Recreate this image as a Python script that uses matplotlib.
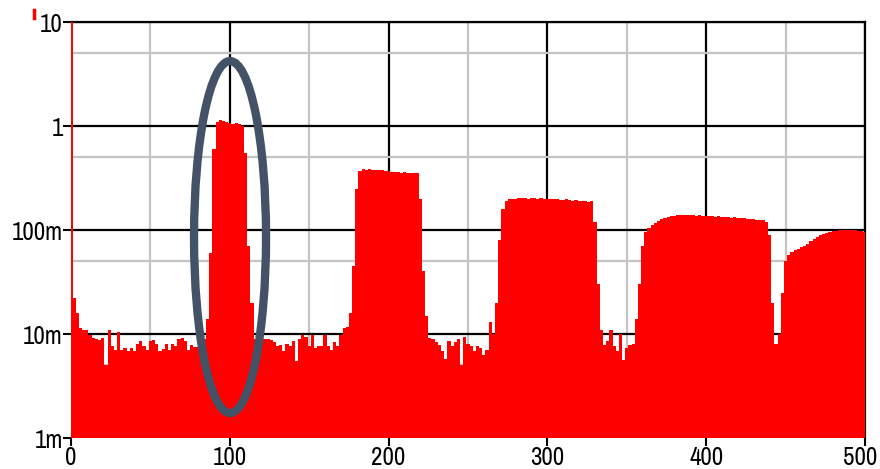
import numpy as np
import matplotlib
matplotlib.use('Agg')
from matplotlib import pyplot as plt
from matplotlib import font_manager
from matplotlib import transforms
from matplotlib.patches import Ellipse
from matplotlib.lines import Line2D

# prefer a narrow sans face for the tick labels if one is installed
narrow = [f.name for f in font_manager.fontManager.ttflist
          if 'Narrow' in f.name or ('Condensed' in f.name and 'Sans' in f.name)]
plt.rcParams['font.family'] = narrow[:1] + ['Liberation Sans', 'DejaVu Sans']
label_size = 18 if narrow else 16

# spectrum bins, 2 Hz apart, 0..500
freq = np.arange(0, 501, 2)

# DC spike and low-frequency floor, 0..20
low_end = [10, 0.022, 0.016, 0.0115, 0.011, 0.011, 0.0098, 0.0092, 0.009, 0.0088, 0.0092]
# floor 22..86
floor_a = [0.005, 0.0109, 0.0076, 0.0070, 0.0105, 0.0070, 0.0074, 0.0069, 0.0073, 0.0069,
           0.0081, 0.0085, 0.0076, 0.0070, 0.0086, 0.0087, 0.0081, 0.0068, 0.0072, 0.0080,
           0.0070, 0.0080, 0.0076, 0.0090, 0.0092, 0.0085, 0.0070, 0.0078, 0.0075, 0.0075,
           0.0080, 0.0090, 0.014]
# band around 100, 88..114
band_100 = [0.06, 0.6, 1.10, 1.14, 1.12, 1.10, 1.07, 1.05, 1.06, 1.04, 1.0, 0.55, 0.07, 0.02]
# floor 116..174
floor_b = [0.009, 0.0085, 0.0080, 0.0090, 0.0090, 0.0087, 0.0084, 0.0076, 0.0078, 0.0069,
           0.0081, 0.0076, 0.0086, 0.0055, 0.0090, 0.0098, 0.0094, 0.0076, 0.0098, 0.0073,
           0.0076, 0.0076, 0.0098, 0.0076, 0.0070, 0.0084, 0.0076, 0.0098, 0.0115, 0.0118]
# band around 200, 176..224
band_200 = [0.016, 0.045, 0.25, 0.37, 0.385, 0.38, 0.385, 0.38, 0.375, 0.38, 0.375, 0.37,
            0.37, 0.365, 0.36, 0.36, 0.355, 0.36, 0.355, 0.35, 0.355, 0.35, 0.2, 0.04, 0.015]
# floor 226..266
floor_c = [0.0092, 0.0090, 0.0084, 0.0078, 0.0069, 0.0057, 0.0085, 0.0076, 0.0084, 0.0089,
           0.0050, 0.0094, 0.0081, 0.0076, 0.0069, 0.0076, 0.0073, 0.0063, 0.0070, 0.013, 0.010]
# band around 300, 268..334
band_300 = [0.02, 0.08, 0.16, 0.19, 0.2, 0.198, 0.2, 0.203, 0.205, 0.203, 0.2, 0.204,
            0.202, 0.2, 0.203, 0.2, 0.198, 0.2, 0.197, 0.199, 0.196, 0.195, 0.197, 0.194,
            0.192, 0.193, 0.19, 0.19, 0.188, 0.185, 0.19, 0.12, 0.03, 0.011]
# floor 336..356
floor_d = [0.0079, 0.0085, 0.0109, 0.0076, 0.0068, 0.0101, 0.0056, 0.0073, 0.0079, 0.0081, 0.014]
# band around 400, 358..446
band_400 = [0.03, 0.07, 0.095, 0.105, 0.112, 0.118, 0.123, 0.127, 0.130, 0.133, 0.135,
            0.137, 0.138, 0.139, 0.139,
            0.140, 0.138, 0.139, 0.137, 0.138, 0.136, 0.137, 0.135, 0.136, 0.134, 0.135,
            0.133, 0.134, 0.132, 0.131, 0.132, 0.130, 0.129, 0.130, 0.128, 0.127, 0.128,
            0.126, 0.125, 0.124,
            0.12, 0.09, 0.02, 0.008, 0.01]
# band around 500, 448..500
band_500 = [0.025, 0.05, 0.058, 0.062, 0.064, 0.066, 0.068, 0.070, 0.074, 0.078, 0.082,
            0.086, 0.090, 0.092, 0.094, 0.095, 0.097, 0.098, 0.099, 0.100, 0.101, 0.100,
            0.099, 0.099, 0.098, 0.097, 0.096]

level = np.concatenate([low_end, floor_a, band_100, floor_b, band_200, floor_c,
                        band_300, floor_d, band_400, band_500])

ytick_vals = [1e-3, 1e-2, 1e-1, 1, 10]
ytick_text = ['1m', '10m', '100m', '1', '10']
xtick_vals = [0, 100, 200, 300, 400, 500]

fig = plt.figure(figsize=(8.8, 4.69), dpi=100)
ax = fig.add_axes([71/880, 31/469, 794/880, 416/469])

ax.fill_between(freq, 1e-3, level, step='mid', color='#ff0000', lw=0, zorder=3)

ax.set_yscale('log')
ax.set_xlim(0, 500)
ax.set_ylim(1e-3, 10)

ax.set_yticks(ytick_vals)
ax.set_yticklabels(ytick_text)
ax.set_yticks([5e-3, 5e-2, 0.5, 5], minor=True)
ax.set_xticks(xtick_vals)
ax.set_xticks([50, 150, 250, 350, 450], minor=True)
ax.tick_params(which='major', length=6, width=1.5, pad=0, labelsize=label_size, color='black')
ax.tick_params(which='minor', length=0, labelleft=False, labelbottom=False)

# keep the last frequency label inside the canvas
last = ax.get_xticklabels()[-1]
last.set_transform(last.get_transform() + transforms.ScaledTranslation(-5/100, 0, fig.dpi_scale_trans))

ax.set_axisbelow(True)
ax.grid(which='major', color='black', lw=1.6)
ax.grid(which='minor', color='#c4c4c4', lw=1.6)
for side in ax.spines:
    ax.spines[side].set_color('black')
    ax.spines[side].set_linewidth(1.6)
ax.spines['left'].set_visible(False)
ax.spines['bottom'].set_visible(False)

# highlight ring around the 100 band
ring = Ellipse((0.2003, 0.483), 0.0907, 0.846, transform=ax.transAxes,
               fill=False, edgecolor='#435266', lw=6, zorder=5)
ax.add_patch(ring)

fig.add_artist(Line2D([34/880, 34/880], [1 - 10/469, 1 - 18/469], color='#ff0000', lw=2.5))

fig.savefig('out.png', dpi=100)
